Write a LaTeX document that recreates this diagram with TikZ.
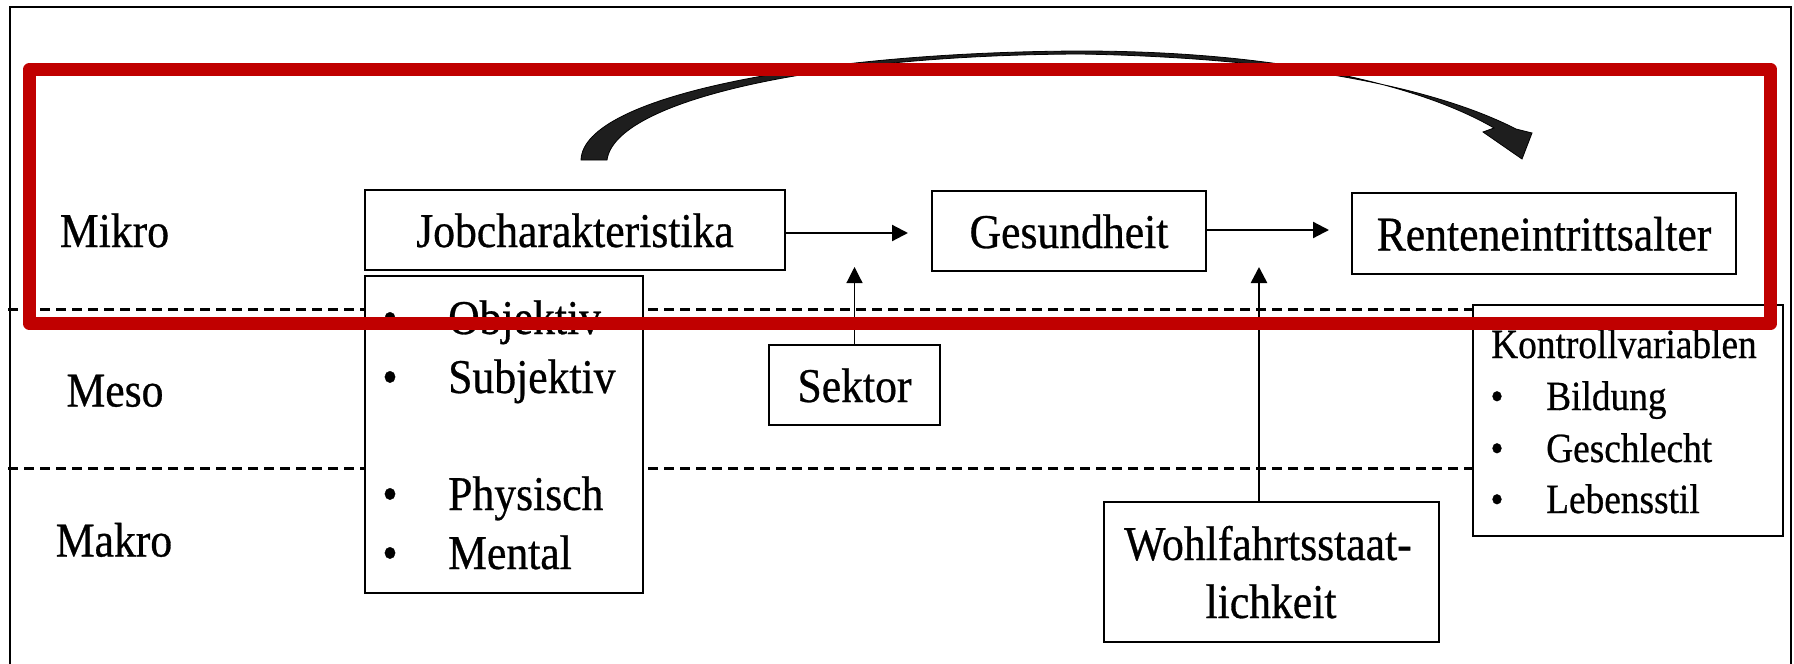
\documentclass[tikz,border=0pt]{standalone}
\usepackage{fontspec}
\setmainfont{Liberation Serif}[FakeStretch=0.9,FakeBold=0.6]
\usetikzlibrary{arrows.meta}
\newcommand\bigf{\fontsize{48.5pt}{58pt}\selectfont}
\newcommand\smf{\fontsize{41.5pt}{52pt}\selectfont}
\definecolor{redframe}{HTML}{C00000}
\definecolor{curvefill}{HTML}{1E1E1E}
\begin{document}
\begin{tikzpicture}[x=1pt,y=-1pt,
  box/.style={draw, line width=2.4pt, fill=white, inner sep=0pt},
  onebox/.style={box, font=\bigf, text height=34pt, text depth=0pt},
  lbl/.style={font=\bigf, anchor=base, inner sep=0pt},
  lblw/.style={font=\bigf, anchor=base west, inner sep=0pt},
  slbl/.style={font=\smf, anchor=base, inner sep=0pt},
  slblw/.style={font=\smf, anchor=base west, inner sep=0pt},
  arr/.style={line width=2.2pt, -{Triangle[length=16pt,width=16pt]}},
  sep/.style={line width=3pt, dash pattern=on 10pt off 6pt},
  redbox/.style={draw=redframe, line width=13.5pt, line join=round}]
\useasboundingbox (0,0) rectangle (1794,664);
% outer frame
\draw[line width=2.8pt] (10,664) -- (10,7) -- (1791,7) -- (1791,664);
% level separators
\draw[sep] (8,309) -- (1480,309);
\draw[sep] (8,468) -- (1480,468);
% level labels
\node[lbl] (mikro) at (114.5,247) {Mikro};
\node[lbl] (meso) at (115,406.5) {Meso};
\node[lbl] (makro) at (114,556.5) {Makro};
% boxes
\node[onebox, minimum width=420pt, minimum height=80pt] (job) at (575,230) {Jobcharakteristika};
\node[onebox, minimum width=274pt, minimum height=80pt] (ges) at (1069,231) {Gesundheit};
\node[onebox, minimum width=384pt, minimum height=81pt] (rente) at (1544,233.5) {Renteneintrittsalter};
\node[onebox, minimum width=171pt, minimum height=80pt] (sektor) at (854.5,385) {Sektor};
\node[box, minimum width=278pt, minimum height=317pt] (liste) at (504,434.5) {};
\node[box, minimum width=335pt, minimum height=140pt] (wohl) at (1271.5,572) {};
\node[box, minimum width=310pt, minimum height=231pt] (kontroll) at (1628,420.5) {};
% list texts
\node[lbl] (b1) at (390,334) {\textbullet};
\node[lblw] (t1) at (448,334) {Objektiv};
\node[lbl] (b2) at (390,393) {\textbullet};
\node[lblw] (t2) at (448,393) {Subjektiv};
\node[lbl] (b3) at (390,510) {\textbullet};
\node[lblw] (t3) at (448,510) {Physisch};
\node[lbl] (b4) at (390,569) {\textbullet};
\node[lblw] (t4) at (448,569) {Mental};
% Wohlfahrt text
\node[lbl] (w1) at (1268,560) {Wohlfahrtsstaat-};
\node[lbl] (w2) at (1271,618) {lichkeit};
% Kontroll texts
\node[slblw] (k0) at (1491,358) {Kontrollvariablen};
\node[slbl] (kb1) at (1497,410) {\textbullet};
\node[slblw] (k1) at (1546,410) {Bildung};
\node[slbl] (kb2) at (1497,462) {\textbullet};
\node[slblw] (k2) at (1546,462) {Geschlecht};
\node[slbl] (kb3) at (1497,513) {\textbullet};
\node[slblw] (k3) at (1546,513) {Lebensstil};
% connectors
\coordinate (tipG) at (908,233);
\coordinate (tipR) at (1329,230);
\coordinate (tipS) at (854.5,267);
\coordinate (tipW) at (1259,267);
\draw[arr] (job.east |- tipG) -- (tipG);
\draw[arr] (ges.east |- tipR) -- (tipR);
\draw[arr, line width=1.2pt] (sektor.north) -- (tipS);
\draw[arr, line width=2.6pt] (wohl.north -| tipW) -- (tipW);
% curved arrow
\fill[curvefill, draw=black, line width=0.8pt]
 (581,160) .. controls (583,95) and (820,52) .. (1080,51)
 .. controls (1280,51) and (1420,85) .. (1494,128)
 -- (1483,132) -- (1522,159) -- (1532,133) -- (1516,129)
 .. controls (1440,90) and (1300,58) .. (1080,54)
 .. controls (820,55) and (615,100) .. (607,160) -- cycle;
% red highlight
\draw[redbox] (29.5,69.5) rectangle (1770.5,323.5);
\end{tikzpicture}
\end{document}
